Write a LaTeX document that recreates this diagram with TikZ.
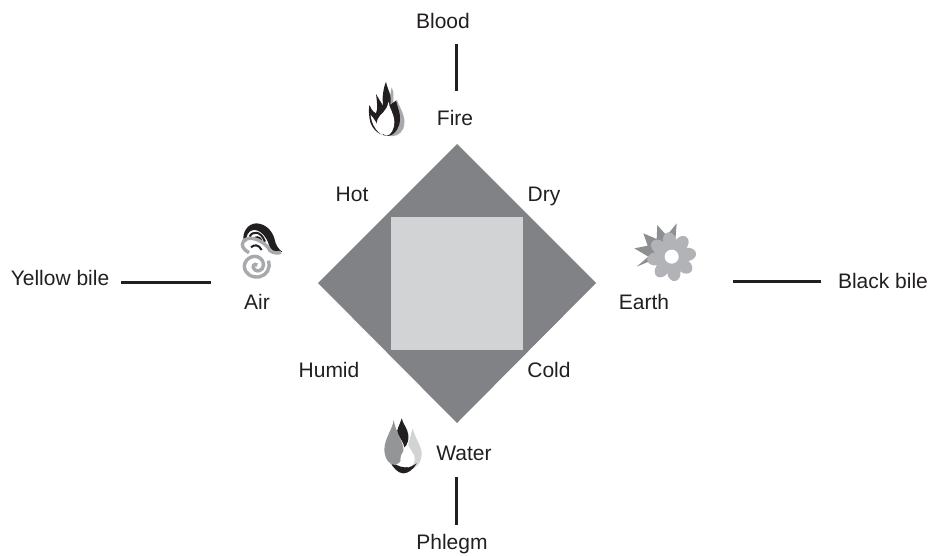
\documentclass[tikz,border=0pt]{standalone}
\usepackage{fontspec}
\setmainfont{Liberation Sans}
\usetikzlibrary{calc}
\definecolor{dk}{HTML}{808285}
\definecolor{lt}{HTML}{D1D3D4}
\definecolor{mid}{HTML}{A7A9AC}
\definecolor{petal}{HTML}{B1B3B6}
\definecolor{ink}{HTML}{231F20}
\tikzset{
  x=1pt,y=-1pt,
  lab/.style={inner sep=0pt,outer sep=0pt,anchor=base,font=\fontsize{21}{24}\selectfont,text=ink},
  rulebar/.style={draw=ink,line width=3pt},
  zoomed/.style={x=0.3333pt,y=-0.3333pt},
}
\begin{document}
\begin{tikzpicture}
\useasboundingbox (0,0) rectangle (929,555);
\fill[white] (0,0) rectangle (929,555);
% diamond and square
\fill[dk] (457,144) -- (596,283) -- (457,423) -- (318,283) -- cycle;
\fill[lt] (391,217) rectangle (523,350);
% labels
\node[lab] (blood) at (443,28) {Blood};
\node[lab] (fire) at (455,125) {Fire};
\node[lab] (hot) at (352,201) {Hot};
\node[lab] (dry) at (544,201) {Dry};
\node[lab] (air) at (257,309) {Air};
\node[lab] (earth) at (644,309) {Earth};
\node[lab] (yellow) at (60,285) {Yellow bile};
\node[lab] (black) at (883,288) {Black bile};
\node[lab] (humid) at (329,377) {Humid};
\node[lab] (cold) at (549,377) {Cold};
\node[lab] (water) at (464,460) {Water};
\node[lab] (phlegm) at (452,549) {Phlegm};
% connectors
\draw[rulebar] ([shift={(1,16)}]fire.north |- blood.south) -- ([shift={(1,-19)}]fire.north);
\draw[rulebar] ([shift={(1,17)}]fire.north |- water.south) -- ([shift={(1,-9)}]fire.north |- phlegm.north);
\draw[rulebar] ([shift={(12,4.5)}]yellow.east) -- ([shift={(-33,4.5)}]air.west |- yellow.east);
\draw[rulebar] ([shift={(-17,0.5)}]black.west) -- ([shift={(64,0.5)}]earth.east |- black.west);
% fire icon
\begin{scope}[shift={(350,70)},zoomed]
\fill[mid] (125,52) .. controls (135,70) and (128,85) .. (130,100) -- (141,90) .. controls (150,115) and (165,135) .. (163,160) .. controls (162,185) and (145,198) .. (125,199) -- (100,180) -- cycle;
\fill[ink] (108,35) .. controls (112,60) and (128,75) .. (120,105) -- (138,92)
 .. controls (142,110) and (152,130) .. (150,150) .. controls (148,175) and (135,192) .. (120,197)
 .. controls (105,200) and (75,192) .. (62,160) .. controls (56,140) and (56,120) .. (58,105)
 .. controls (62,115) and (68,125) .. (78,130) .. controls (85,115) and (80,90) .. (78,72)
 .. controls (85,85) and (95,100) .. (100,108) .. controls (95,85) and (100,55) .. (108,35) -- cycle;
\fill[white] (115,95) .. controls (118,115) and (132,130) .. (133,155) .. controls (133,180) and (122,195) .. (110,197)
 .. controls (90,193) and (74,170) .. (83,148) .. controls (90,130) and (112,125) .. (115,95) -- cycle;
\fill[white] (62,135) .. controls (64,160) and (78,185) .. (100,197) -- (85,170) .. controls (80,160) and (72,145) .. (62,135) -- cycle;
\end{scope}
% air icon
\begin{scope}[shift={(225,210)},zoomed]
\fill[ink] (56,95) .. controls (50,65) and (70,40) .. (95,40) .. controls (125,42) and (142,65) .. (148,85) .. controls (152,105) and (160,118) .. (172,125)
 .. controls (155,132) and (140,125) .. (132,105) .. controls (125,80) and (105,58) .. (85,60) .. controls (70,62) and (62,78) .. (64,95) -- cycle;
\draw[ink,line width=2pt] (74,80) .. controls (82,62) and (108,62) .. (120,95);
\draw[ink,line width=2pt] (86,88) .. controls (92,78) and (104,80) .. (110,92);
\draw[ink,line width=2pt] (78,112) .. controls (88,102) and (102,104) .. (110,120);
\draw[mid,line width=3.4pt] (72,128) .. controls (46,114) and (46,92) .. (68,86) .. controls (90,80) and (125,100) .. (135,122) .. controls (145,130) and (160,130) .. (168,127);
\draw[mid,line width=3.4pt] (97,165) .. controls (88,158) and (78,170) .. (90,180) .. controls (108,190) and (122,170) .. (112,152) .. controls (98,128) and (60,140) .. (58,168) .. controls (58,192) and (82,205) .. (105,200) .. controls (125,195) and (138,175) .. (130,152);
\end{scope}
% earth icon
\begin{scope}[shift={(625,215)},zoomed]
\fill[dk!90] (28,100) -- (68,92) -- (55,55) -- (95,72) -- (97,30) -- (125,62) -- (155,25) -- (150,90) -- (100,160) -- (90,132) -- (35,155) -- (70,125) -- cycle;
\foreach \a in {0,45,...,315}{
  \fill[petal,rotate around={\a+8:(140,125)}] (188,125) ellipse[x radius=8.6pt,y radius=6.6pt];
}
\fill[petal] (140,125) circle[radius=12pt];
\fill[white] (140,125) circle[radius=7pt];
\end{scope}
% water icon
\begin{scope}[shift={(375,410)},zoomed]
\fill[lt] (113,55) .. controls (120,85) and (142,110) .. (140,135) .. controls (138,160) and (122,178) .. (105,176) -- (95,120) -- cycle;
\fill[ink] (80,25) .. controls (75,45) and (62,60) .. (68,72) .. controls (75,85) and (85,95) .. (88,112) .. controls (98,108) and (102,85) .. (100,75) .. controls (98,55) and (85,45) .. (80,25) -- cycle;
\fill[ink] (45,155) .. controls (58,160) and (72,172) .. (90,172) .. controls (105,172) and (118,165) .. (125,160) .. controls (115,178) and (100,190) .. (85,190) .. controls (70,190) and (55,175) .. (45,155) -- cycle;
\fill[dk!85] (56,30) .. controls (52,60) and (28,85) .. (28,120) .. controls (30,150) and (45,165) .. (60,165) .. controls (78,160) and (88,140) .. (85,115) .. controls (80,85) and (62,65) .. (56,30) -- cycle;
\fill[white] (98,97) .. controls (95,115) and (76,130) .. (76,148) .. controls (78,165) and (90,172) .. (100,172) .. controls (115,170) and (122,155) .. (118,138) .. controls (112,122) and (100,115) .. (98,97) -- cycle;
\end{scope}
\end{tikzpicture}
\end{document}
